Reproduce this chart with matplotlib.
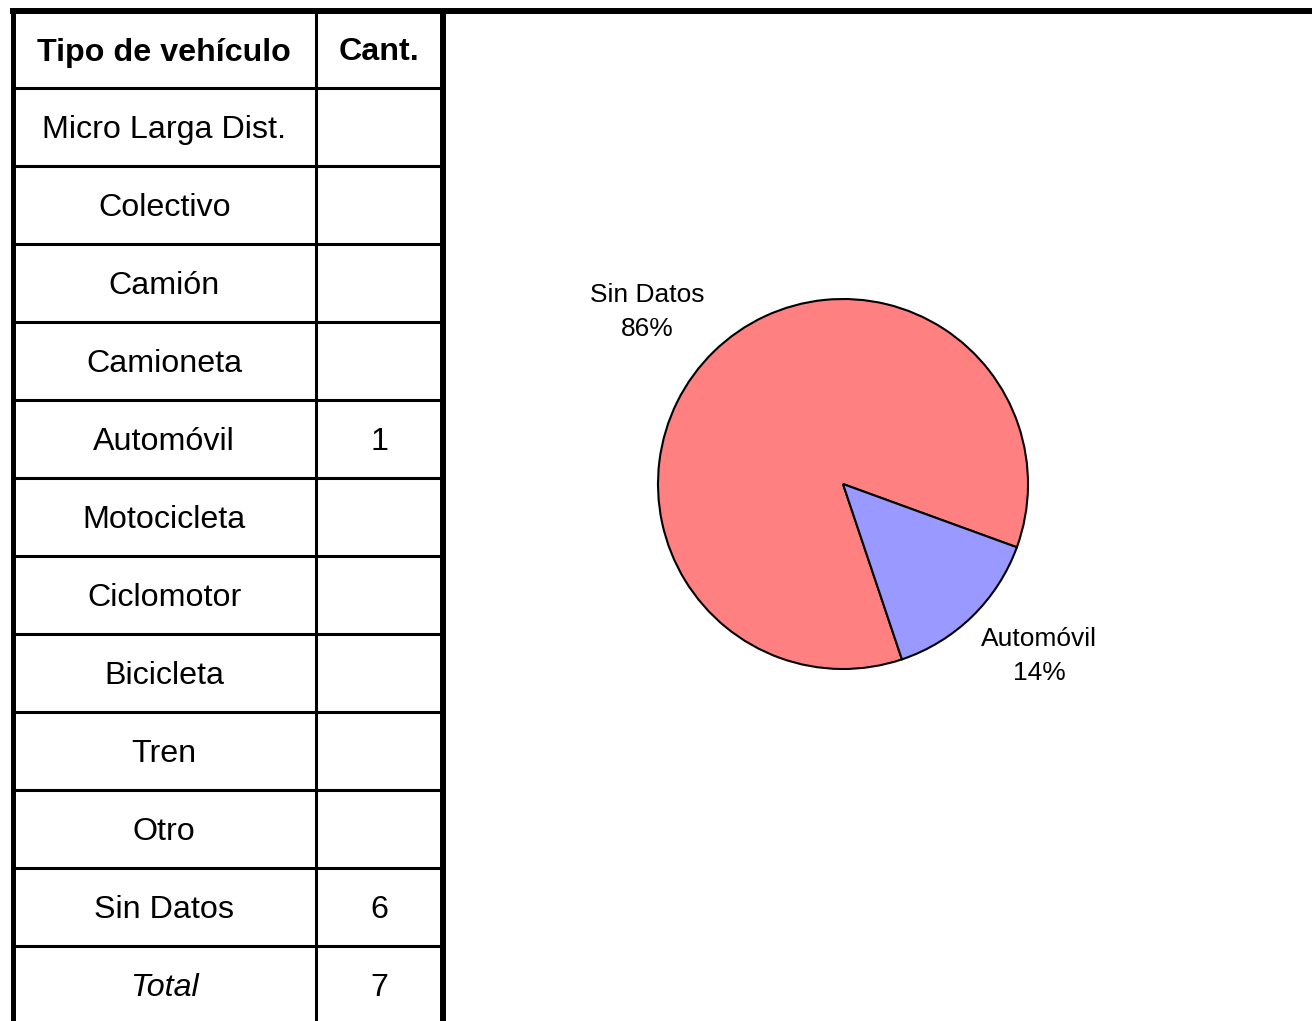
import numpy as np
import matplotlib.pyplot as plt

plt.rcParams['font.family'] = ['Liberation Sans', 'DejaVu Sans']

# table data
tipos = ["Micro Larga Dist.", "Colectivo", "Camión", "Camioneta", "Automóvil",
         "Motocicleta", "Ciclomotor", "Bicicleta", "Tren", "Otro", "Sin Datos"]
cantidades = [None, None, None, None, 1, None, None, None, None, None, 6]

# pie data
pie_labels = ["Sin Datos", "Automóvil"]
pie_values = [6, 1]
pie_colors = ["#FF8080", "#9999FF"]

W, H = 1312, 1021
fig = plt.figure(figsize=(W / 100, H / 100), dpi=100)

# full-figure axes in pixel units for the table
ax = fig.add_axes([0, 0, 1, 1])
ax.set_xlim(0, W)
ax.set_ylim(H, 0)
ax.axis('off')

x_left, x_mid, x_right = 12.5, 316, 443
y_top, head_h, row_h = 11, 77, 78

# borders
ax.plot([x_left - 2.5, W], [y_top, y_top], color='black', lw=4.3, solid_capstyle='butt')
ax.plot([x_left, x_left], [y_top, H], color='black', lw=3.6, solid_capstyle='butt')
ax.plot([x_right, x_right], [y_top, H], color='black', lw=4.3, solid_capstyle='butt')
ax.plot([x_mid, x_mid], [y_top, H], color='black', lw=2.2, solid_capstyle='butt')

fs = 23.2
ax.text((x_left + x_mid) / 2, y_top + head_h / 2 + 3, "Tipo de vehículo", ha='center', va='center',
        fontsize=fs, fontweight='bold')
ax.text((x_mid + x_right) / 2, y_top + head_h / 2 + 3, "Cant.", ha='center', va='center',
        fontsize=fs, fontweight='bold')

rows = list(zip(tipos, cantidades)) + [("Total", sum(c for c in cantidades if c))]
for i, (tipo, cant) in enumerate(rows):
    y0 = y_top + head_h + i * row_h
    ax.plot([x_left, x_right], [y0, y0], color='black', lw=2.2, solid_capstyle='butt')
    yc = y0 + row_h / 2 + 3
    style = 'italic' if tipo == "Total" else 'normal'
    ax.text((x_left + x_mid) / 2, yc, tipo, ha='center', va='center', fontsize=fs, fontstyle=style)
    if cant is not None:
        ax.text((x_mid + x_right) / 2, yc, str(cant), ha='center', va='center', fontsize=fs)

# pie chart
cx, cy, r = 843, 484, 185
pax = fig.add_axes([(cx - r) / W, (H - cy - r) / H, 2 * r / W, 2 * r / H])
total = sum(pie_values)
labels = [f"{l}\n{round(100 * v / total)}%" for l, v in zip(pie_labels, pie_values)]
wedges, texts = pax.pie(pie_values, labels=labels, colors=pie_colors, startangle=-20,
                        labeldistance=1.41,
                        wedgeprops=dict(edgecolor='black', linewidth=1.5),
                        textprops=dict(fontsize=19, linespacing=1.55))
for w, t in zip(wedges, texts):
    ang = np.deg2rad((w.theta1 + w.theta2) / 2 + 4.4)
    t.set_position((1.41 * np.cos(ang), 1.41 * np.sin(ang)))
    t.set_ha('center')
    t.set_va('center')
pax.set_xlim(-1, 1)
pax.set_ylim(-1, 1)
pax.set_aspect('equal')

fig.savefig("out.png", dpi=100)
